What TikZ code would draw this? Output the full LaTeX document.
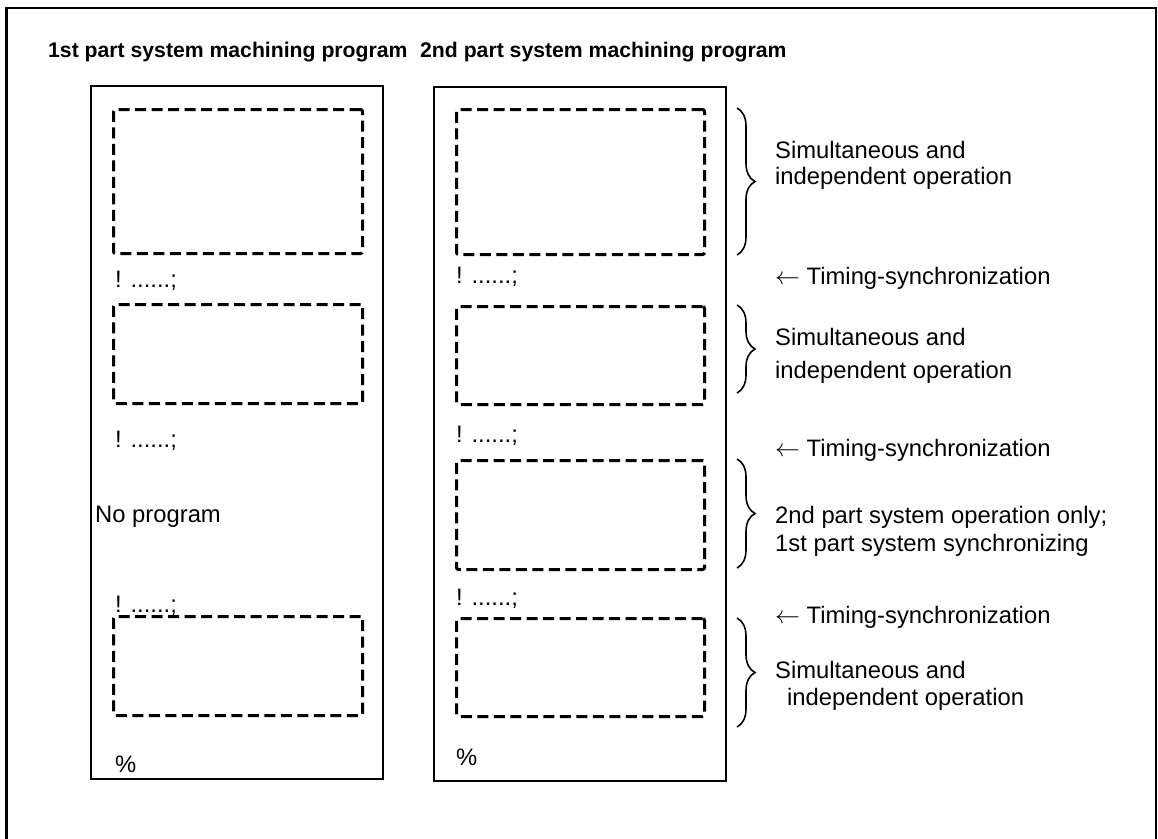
\documentclass[tikz,border=0pt]{standalone}
\usepackage{fontspec}
\setmainfont{Liberation Sans}
\usetikzlibrary{decorations.pathreplacing}

\begin{document}
\begin{tikzpicture}[x=1pt, y=-1pt,
  txt/.style={anchor=base west, inner sep=0pt, font=\fontsize{23.8}{28}\selectfont},
  hdr/.style={anchor=base west, inner sep=0pt, font=\fontsize{21.2}{25}\selectfont\bfseries},
  prog/.style={draw, line width=2pt, anchor=north west, inner sep=0pt, minimum width=292pt},
  blk/.style={draw, line width=3pt, dash pattern=on 11pt off 5.5pt, rounded corners=2pt, anchor=north west, inner sep=0pt},
  brc/.style={decorate, decoration={brace, amplitude=18pt}, line width=1.6pt}]
\useasboundingbox (0,0) rectangle (1158,838);
\draw[line width=2.7pt] (6.5,850) -- (6.5,8) -- (1156,8) -- (1156,850);
% headers
\node[hdr] (h1) at (48,57) {1st part system machining program};
\node[hdr] (h2) at (420,57) {2nd part system machining program};
% 1st part system
\node[prog, minimum height=693pt] (p1) at (90,85) {};
\node[blk, minimum width=249pt, minimum height=144pt] (a1) at (112,108) {};
\node[txt] (s1) at (115,287) {! ......;};
\node[blk, minimum width=249pt, minimum height=99pt] (a2) at (112,303) {};
\node[txt] (s2) at (115,447) {! ......;};
\node[txt] (np) at (95,522) {No program};
\node[txt] (s3) at (115,612) {! ......;};
\node[blk, minimum width=249pt, minimum height=99pt] (a3) at (112,615) {};
\node[txt] (e1) at (115,772) {\%};
% 2nd part system
\node[prog, minimum height=694pt] (p2) at (433,86) {};
\node[blk, minimum width=248pt, minimum height=145pt] (b1) at (455,108) {};
\node[txt] (t1) at (456,283) {! ......;};
\node[blk, minimum width=248pt, minimum height=98pt] (b2) at (455,305) {};
\node[txt] (t2) at (456,442) {! ......;};
\node[blk, minimum width=248pt, minimum height=109pt] (b3) at (455,459) {};
\node[txt] (t3) at (456,605) {! ......;};
\node[blk, minimum width=248pt, minimum height=98pt] (b4) at (455,617) {};
\node[txt] (e2) at (456,765) {\%};
% braces and notes
\draw[brc] (737,108) -- (737,255);
\draw[brc] (737,305) -- (737,393);
\draw[brc] (737,459) -- (737,568);
\draw[brc] (737,618) -- (737,727);
\node[txt] (n1a) at (775,158) {Simultaneous and};
\node[txt] (n1b) at (775,184) {independent operation};
\node[txt] (y1) at (775,284) {$\leftarrow$ Timing-synchronization};
\node[txt] (n2a) at (775,345) {Simultaneous and};
\node[txt] (n2b) at (775,378) {independent operation};
\node[txt] (y2) at (775,456) {$\leftarrow$ Timing-synchronization};
\node[txt] (n3a) at (775,523) {2nd part system operation only;};
\node[txt] (n3b) at (775,551) {1st part system synchronizing};
\node[txt] (y3) at (775,623) {$\leftarrow$ Timing-synchronization};
\node[txt] (n4a) at (775,678) {Simultaneous and};
\node[txt] (n4b) at (787,705) {independent operation};
\end{tikzpicture}
\end{document}
